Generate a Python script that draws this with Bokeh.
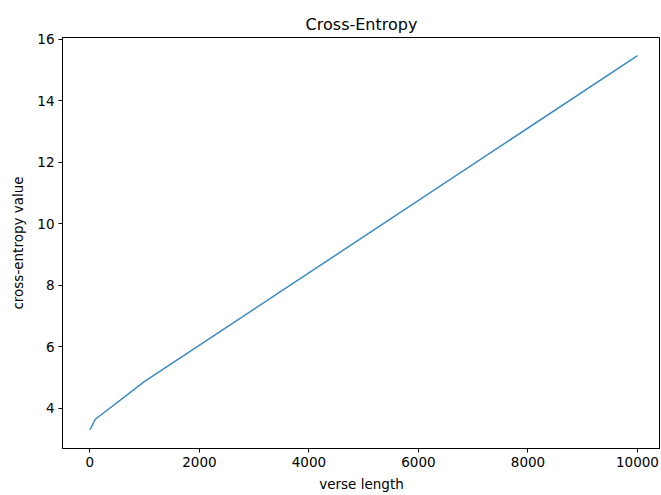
from bokeh.plotting import figure
from bokeh.models import Range1d, FixedTicker, ColumnDataSource
from bokeh.embed import file_html
from bokeh.resources import INLINE

verse_length = [1, 100, 1000, 10000]
cross_entropy = [3.30, 3.64, 4.87, 15.46]
x_ticks = [0, 2000, 4000, 6000, 8000, 10000]
y_ticks = [4, 6, 8, 10, 12, 14, 16]

src = ColumnDataSource(dict(x=verse_length, y=cross_entropy))

p = figure(width=660, height=494, output_backend="svg", toolbar_location=None,
           x_range=Range1d(-500, 10420), y_range=Range1d(2.69, 16.05),
           min_border_left=62, min_border_right=0, min_border_top=37, min_border_bottom=44,
           title="Cross-Entropy")
p.line("x", "y", source=src, line_color="#3b8bc2", line_width=1.5)

p.title.align = "center"
p.title.text_font = "DejaVu Sans"
p.title.text_font_size = "16px"
p.title.text_font_style = "normal"
p.title.text_color = "black"
p.title.offset = 0
p.title.standoff = 8

p.xgrid.visible = False
p.ygrid.visible = False
p.outline_line_color = "black"
p.outline_line_width = 1
p.background_fill_color = "white"
p.border_fill_color = "white"

for ax, ticks, lbl, st in ((p.xaxis[0], x_ticks, "verse length", 6), (p.yaxis[0], y_ticks, "cross-entropy value", 8)):
    ax.ticker = FixedTicker(ticks=ticks)
    ax.axis_label = lbl
    ax.axis_label_text_font = "DejaVu Sans"
    ax.axis_label_text_font_size = "13.5px"
    ax.axis_label_text_font_style = "normal"
    ax.axis_label_standoff = st
    ax.major_label_text_font = "DejaVu Sans"
    ax.major_label_text_font_size = "13.5px"
    ax.major_label_standoff = 4
    ax.major_tick_out = 4
    ax.major_tick_in = 0
    ax.minor_tick_out = 0
    ax.minor_tick_in = 0
    ax.axis_line_color = "black"
    ax.major_tick_line_color = "black"
    ax.major_label_text_color = "black"
    ax.axis_label_text_color = "black"

open("out.html", "w").write(file_html(p, INLINE))
